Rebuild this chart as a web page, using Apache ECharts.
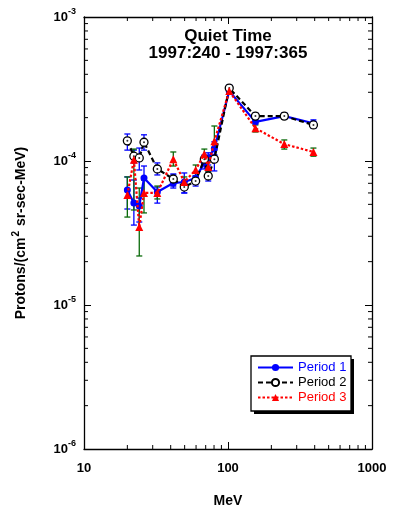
<!DOCTYPE html>
<html>
<head>
<meta charset="utf-8">
<script src="https://cdn.jsdelivr.net/npm/echarts@6/dist/echarts.min.js"></script>
<style>
html,body{margin:0;padding:0;background:#fff;}
#chart{width:393px;height:515px;}
</style>
</head>
<body>
<div id="chart"></div>
<script>
// Energies (MeV)
const energy = [20, 22.2, 24.2, 26.1, 32.3, 41.7, 49.7, 59.6, 68.5, 72.9, 80.4, 102, 155, 246, 392];

// Period 1
const period1   = [6.29e-5, 5.1e-5, 4.87e-5, 7.62e-5, 6.09e-5, 7.03e-5, 7.15e-5, 7.62e-5, 9.7e-5, 1.05e-4, 1.22e-4, 3.06e-4, 1.87e-4, 2.05e-4, 1.83e-4];
const period1Lo = [4.64e-5, 3.59e-5, 3.77e-5, 5.72e-5, 5.1e-5, 6.49e-5, 6.0e-5, 6.92e-5, 8.8e-5, 9.38e-5, 1.10e-4, 2.96e-4, 1.81e-4, 1.96e-4, 1.75e-4];
const period1Hi = [7.75e-5, 7.38e-5, 5.53e-5, 9.23e-5, 6.59e-5, 8.0e-5, 8.26e-5, 8.26e-5, 1.05e-4, 1.14e-4, 1.36e-4, 3.16e-4, 1.99e-4, 2.15e-4, 1.93e-4];

// Period 2
const period2   = [1.38e-4, 1.08e-4, 1.05e-4, 1.35e-4, 8.8e-5, 7.5e-5, 6.59e-5, 7.26e-5, 1.03e-4, 7.87e-5, 1.03e-4, 3.21e-4, 2.05e-4, 2.05e-4, 1.78e-4];
const period2Lo = [1.19e-4, 9.7e-5, 8.66e-5, 1.19e-4, 8.0e-5, 6.7e-5, 6.0e-5, 6.7e-5, 9.38e-5, 7.26e-5, 8.53e-5, 3.06e-4, 1.96e-4, 1.96e-4, 1.69e-4];
const period2Hi = [1.54e-4, 1.19e-4, 1.23e-4, 1.52e-4, 9.7e-5, 8.13e-5, 7.26e-5, 7.87e-5, 1.10e-4, 8.53e-5, 1.10e-4, 3.37e-4, 2.15e-4, 2.15e-4, 1.87e-4];

// Period 3
const period3   = [5.81e-5, 1.02e-4, 3.48e-5, 6.0e-5, 6.0e-5, 1.03e-4, 7.15e-5, 8.66e-5, 1.12e-4, 9.08e-5, 1.37e-4, 3.06e-4, 1.69e-4, 1.31e-4, 1.155e-4];
const period3Lo = [4.08e-5, 4.57e-5, 2.19e-5, 4.36e-5, 5.45e-5, 9.23e-5, 6.49e-5, 7.87e-5, 1.02e-4, 8.39e-5, 1.19e-4, 2.96e-4, 1.59e-4, 1.21e-4, 1.08e-4];
const period3Hi = [7.75e-5, 1.21e-4, 6.49e-5, 7.38e-5, 6.7e-5, 1.155e-4, 7.75e-5, 9.38e-5, 1.21e-4, 9.85e-5, 1.75e-4, 3.16e-4, 1.78e-4, 1.40e-4, 1.23e-4];

// Axis ranges and minor tick values
const xMin = 10, xMax = 1000;
const yMin = 1e-6, yMax = 1e-3;
const minorX = [20, 30, 40, 50, 60, 70, 80, 90, 200, 300, 400, 500, 600, 700, 800, 900];
const minorY = [2e-6, 3e-6, 4e-6, 5e-6, 6e-6, 7e-6, 8e-6, 9e-6,
                2e-5, 3e-5, 4e-5, 5e-5, 6e-5, 7e-5, 8e-5, 9e-5,
                2e-4, 3e-4, 4e-4, 5e-4, 6e-4, 7e-4, 8e-4, 9e-4];

const titleLines = ['Quiet Time', '1997:240 - 1997:365'];
const seriesNames = ['Period 1', 'Period 2', 'Period 3'];

const FONT = '"Liberation Sans", Arial, Helvetica, sans-serif';
const BLUE = '#0000ff', BLACK = '#000000', RED = '#ff0000', GREEN = '#0a6a0a';

function errSeries(lo, hi, color) {
  return {
    type: 'custom',
    silent: true,
    z: 2,
    data: energy.map((e, i) => [e, lo[i], hi[i]]),
    encode: { x: 0, y: [1, 2] },
    renderItem: function (params, api) {
      const x = api.value(0);
      const top = api.coord([x, api.value(2)]);
      const bot = api.coord([x, api.value(1)]);
      const w = 3;
      const st = { stroke: color, lineWidth: 1.3 };
      return {
        type: 'group',
        children: [
          { type: 'line', shape: { x1: top[0], y1: top[1], x2: bot[0], y2: bot[1] }, style: st },
          { type: 'line', shape: { x1: top[0] - w, y1: top[1], x2: top[0] + w, y2: top[1] }, style: st },
          { type: 'line', shape: { x1: bot[0] - w, y1: bot[1], x2: bot[0] + w, y2: bot[1] }, style: st }
        ]
      };
    }
  };
}

const minorLen = 4;
const minorXSeries = {
  type: 'custom', silent: true, clip: false, z: 1,
  data: minorX.map(v => [v, yMin]),
  renderItem: function (params, api) {
    const v = api.value(0);
    const b = api.coord([v, yMin]);
    const t = api.coord([v, yMax]);
    const st = { stroke: '#000', lineWidth: 1 };
    return { type: 'group', children: [
      { type: 'line', shape: { x1: b[0], y1: b[1], x2: b[0], y2: b[1] - minorLen }, style: st },
      { type: 'line', shape: { x1: t[0], y1: t[1], x2: t[0], y2: t[1] + minorLen }, style: st }
    ]};
  }
};
const minorYSeries = {
  type: 'custom', silent: true, clip: false, z: 1,
  data: minorY.map(v => [xMin, v]),
  renderItem: function (params, api) {
    const v = api.value(1);
    const l = api.coord([xMin, v]);
    const r = api.coord([xMax, v]);
    const st = { stroke: '#000', lineWidth: 1 };
    return { type: 'group', children: [
      { type: 'line', shape: { x1: l[0], y1: l[1], x2: l[0] + minorLen, y2: l[1] }, style: st },
      { type: 'line', shape: { x1: r[0], y1: r[1], x2: r[0] - minorLen, y2: r[1] }, style: st }
    ]};
  }
};

const chart = echarts.init(document.getElementById('chart'), null, { renderer: 'canvas' });

const axisLineStyle = { color: '#000', width: 1.3 };

const option = {
  animation: false,
  backgroundColor: '#fff',
  textStyle: { fontFamily: FONT },
  grid: { left: 84, right: 21, top: 17, bottom: 66, containLabel: false },
  graphic: [
    { type: 'text', x: 228, y: 36, style: { text: titleLines[0], align: 'center', verticalAlign: 'middle', font: 'bold 17px ' + FONT, fill: '#000' } },
    { type: 'text', x: 228, y: 53, style: { text: titleLines[1], align: 'center', verticalAlign: 'middle', font: 'bold 17px ' + FONT, fill: '#000' } },
    { type: 'rect', z: 6, shape: { x: 254, y: 359, width: 100, height: 55 }, style: { fill: '#000' } },
    { type: 'rect', z: 7, shape: { x: 251, y: 356, width: 100, height: 55 }, style: { fill: '#fff', stroke: '#000', lineWidth: 1.3 } }
  ],
  legend: {
    z: 10,
    orient: 'vertical',
    left: 251, top: 356,
    padding: [5, 8, 5, 6],
    itemGap: 2,
    itemWidth: 35, itemHeight: 9,
    textStyle: { fontSize: 13, fontFamily: FONT },
    data: [
      { name: seriesNames[0], textStyle: { color: BLUE } },
      { name: seriesNames[1], textStyle: { color: BLACK } },
      { name: seriesNames[2], textStyle: { color: RED } }
    ]
  },
  xAxis: [
    {
      type: 'log', logBase: 10, min: xMin, max: xMax,
      position: 'bottom',
      name: 'MeV', nameLocation: 'middle', nameGap: 45,
      nameTextStyle: { fontSize: 14, fontWeight: 'bold', color: '#000', fontFamily: FONT },
      axisLine: { show: true, lineStyle: axisLineStyle },
      axisTick: { show: true, inside: true, length: 7, lineStyle: { color: '#000', width: 1 } },
      axisLabel: { show: true, margin: 13, fontSize: 13, fontWeight: 'bold', color: '#000', fontFamily: FONT, formatter: v => String(Math.round(v)) },
      splitLine: { show: false }
    },
    {
      type: 'log', logBase: 10, min: xMin, max: xMax,
      position: 'top',
      axisLine: { show: true, lineStyle: axisLineStyle },
      axisTick: { show: true, inside: true, length: 7, lineStyle: { color: '#000', width: 1 } },
      axisLabel: { show: false },
      splitLine: { show: false }
    }
  ],
  yAxis: [
    {
      type: 'log', logBase: 10, min: yMin, max: yMax,
      position: 'left',
      name: 'Protons/(cm{sup|2} sr-sec-MeV)', nameLocation: 'middle', nameGap: 53,
      nameTextStyle: {
        fontSize: 14, fontWeight: 'bold', color: '#000', fontFamily: FONT,
        rich: { sup: { fontSize: 10, fontWeight: 'bold', color: '#000', padding: [0, 1, 10, 1], fontFamily: FONT } }
      },
      axisLine: { show: true, lineStyle: axisLineStyle },
      axisTick: { show: true, inside: true, length: 7, lineStyle: { color: '#000', width: 1 } },
      axisLabel: {
        show: true, margin: 8, fontSize: 13, fontWeight: 'bold', color: '#000', fontFamily: FONT,
        formatter: v => '10{sup|' + Math.round(Math.log10(v)) + '}',
        rich: { sup: { fontSize: 9, fontWeight: 'bold', color: '#000', padding: [0, 0, 10, 0], fontFamily: FONT } }
      },
      splitLine: { show: false }
    },
    {
      type: 'log', logBase: 10, min: yMin, max: yMax,
      position: 'right',
      axisLine: { show: true, lineStyle: axisLineStyle },
      axisTick: { show: true, inside: true, length: 7, lineStyle: { color: '#000', width: 1 } },
      axisLabel: { show: false },
      splitLine: { show: false }
    }
  ],
  series: [
    minorXSeries,
    minorYSeries,
    errSeries(period1Lo, period1Hi, BLUE),
    errSeries(period2Lo, period2Hi, BLUE),
    errSeries(period3Lo, period3Hi, GREEN),
    {
      name: seriesNames[0], type: 'line', z: 3,
      data: energy.map((e, i) => [e, period1[i]]),
      lineStyle: { color: BLUE, width: 2.2, type: 'solid' },
      itemStyle: { color: BLUE },
      symbol: 'circle', symbolSize: 7,
      showSymbol: true
    },
    {
      name: seriesNames[1], type: 'line', z: 4,
      data: energy.map((e, i) => [e, period2[i]]),
      lineStyle: { color: BLACK, width: 2.2, type: [5, 3] },
      itemStyle: { color: '#fff', borderColor: BLACK, borderWidth: 1.3 },
      symbol: 'circle', symbolSize: 8,
      showSymbol: true
    },
    {
      name: 'p2dot', type: 'scatter', z: 5, silent: true,
      data: energy.map((e, i) => [e, period2[i]]),
      symbol: 'circle', symbolSize: 2,
      itemStyle: { color: BLACK }
    },
    {
      name: seriesNames[2], type: 'line', z: 5,
      data: energy.map((e, i) => [e, period3[i]]),
      lineStyle: { color: RED, width: 2.2, type: [2.5, 2] },
      itemStyle: { color: RED },
      symbol: 'triangle', symbolSize: 8,
      showSymbol: true
    }
  ]
};

chart.setOption(option);
</script>
</body>
</html>
